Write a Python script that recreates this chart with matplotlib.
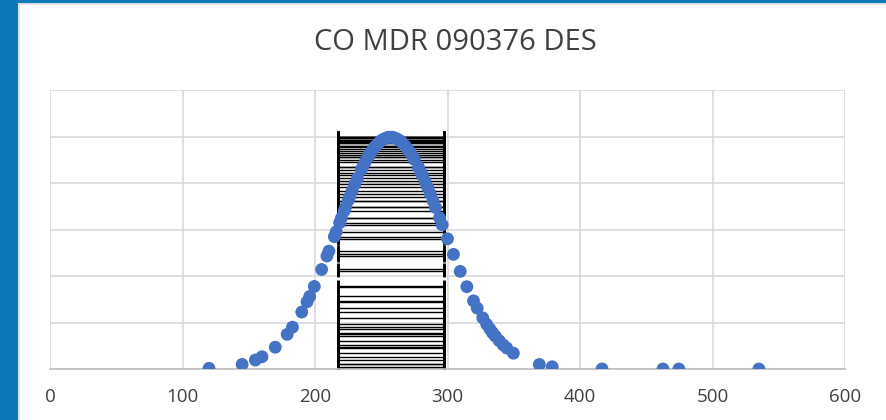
import matplotlib.pyplot as plt
from matplotlib.patches import Rectangle

# values
x_vals = [120, 145, 155, 160, 170, 179, 183, 190, 194, 196, 199.5, 205, 209, 210.5,
          214.6, 216, 218.6, 220, 222, 223, 225, 226, 228, 230, 232, 235, 236, 238,
          240, 241, 243, 245, 246, 248, 250, 251, 253, 255, 256, 258, 259, 261, 263,
          265, 266, 268, 270, 272, 274, 275, 278, 280, 281, 283, 285, 287, 289, 291,
          294, 296, 300, 304.5, 309.6, 314.6, 319.6, 322.4, 326.6, 329.6, 332, 334,
          336, 339, 342, 344.7, 349.7, 369.3, 379, 416.6, 462.6, 474.6, 535]
y_vals = [0.0000283, 0.000198, 0.000386, 0.000527, 0.000937, 0.00149, 0.00180,
          0.00245, 0.00289, 0.00312, 0.00355, 0.00428, 0.00486, 0.00507, 0.00569,
          0.00590, 0.00629, 0.00650, 0.00680, 0.00695, 0.00724, 0.00739, 0.00767,
          0.00794, 0.00820, 0.00857, 0.00869, 0.00891, 0.00911, 0.00921, 0.00938,
          0.00954, 0.00960, 0.00972, 0.00982, 0.00986, 0.00992, 0.00996, 0.00997,
          0.00997, 0.00996, 0.00992, 0.00986, 0.00978, 0.00972, 0.00960, 0.00946,
          0.00930, 0.00911, 0.00901, 0.00869, 0.00845, 0.00833, 0.00807, 0.00781,
          0.00753, 0.00724, 0.00695, 0.00650, 0.00620, 0.00560, 0.00493, 0.00420,
          0.00354, 0.00293, 0.00262, 0.00220, 0.00192, 0.00172, 0.00156, 0.00142,
          0.00122, 0.00104, 0.000902, 0.000680, 0.000194, 0.0000953, 0.0000035,
          0.0, 0.0, 0.0]
mean_x = 257
sd_x = 40
x_ticks = [0, 100, 200, 300, 400, 500, 600]
title = "CO MDR 090376 DES"

fig = plt.figure(figsize=(8.86, 4.2), dpi=100)
fig.patch.set_facecolor("white")

# blue frame on the left and top, light border round the chart panel
fig.patches.append(Rectangle((0, 0), 18 / 886, 1, transform=fig.transFigure,
                             facecolor="#0b78b8", edgecolor="none", zorder=0))
fig.patches.append(Rectangle((0, 417 / 420), 1, 3 / 420, transform=fig.transFigure,
                             facecolor="#0b78b8", edgecolor="none", zorder=0))
fig.patches.append(Rectangle((19 / 886, -0.01), 1, 416 / 420 + 0.01,
                             transform=fig.transFigure, facecolor="none",
                             edgecolor="#d9d9d9", linewidth=1.2, zorder=1))

ax = fig.add_axes([50 / 886, 51 / 420, 795 / 886, 279 / 420])
ax.set_facecolor("white")

ax.errorbar([mean_x] * len(y_vals), y_vals, xerr=sd_x, fmt="none",
            ecolor="black", elinewidth=1.0, capsize=4.5, capthick=2, zorder=2)
ax.scatter(x_vals, y_vals, s=85, color="#4472c4", edgecolors="none", zorder=3)

ax.set_xlim(0, 600)
ax.set_ylim(0, 0.012)
ax.set_xticks(x_ticks)
ax.set_xticklabels([str(t) for t in x_ticks])
ax.set_yticks([0.002 * i for i in range(7)])
ax.set_yticklabels([])
ax.grid(True, color="#d9d9d9", linewidth=1.2)
ax.set_axisbelow(True)
for side in ["left", "right", "top"]:
    ax.spines[side].set_visible(False)
ax.spines["bottom"].set_color("#bfbfbf")
ax.spines["bottom"].set_linewidth(1.2)
ax.tick_params(axis="both", length=0, labelsize=13.5, labelcolor="#404040", pad=14)
for lab in ax.get_xticklabels():
    lab.set_fontfamily("Open Sans")

fig.text(455 / 886, 377 / 420, title, ha="center", va="center",
         fontsize=21, color="#404040", fontfamily="Open Sans")

fig.savefig("out.png", dpi=100)
